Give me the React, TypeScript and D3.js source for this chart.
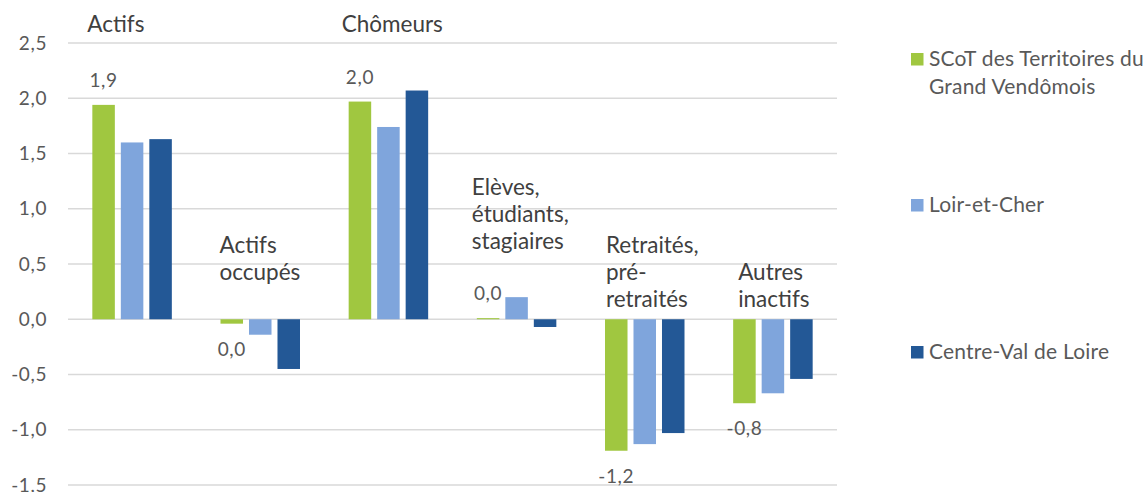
import React, { useEffect, useRef } from "react";
import * as d3 from "d3";

const categories = [
  ["Actifs"],
  ["Actifs", "occupés"],
  ["Chômeurs"],
  ["Elèves,", "étudiants,", "stagiaires"],
  ["Retraités,", "pré-", "retraités"],
  ["Autres", "inactifs"],
];
const seriesNames = ["SCoT des Territoires du Grand Vendômois", "Loir-et-Cher", "Centre-Val de Loire"];
const scotValues = [1.94, -0.04, 1.97, 0.01, -1.19, -0.76];
const loirValues = [1.6, -0.14, 1.74, 0.2, -1.13, -0.67];
const centreValues = [1.63, -0.45, 2.07, -0.07, -1.03, -0.54];
const yTicks = [-1.5, -1.0, -0.5, 0.0, 0.5, 1.0, 1.5, 2.0, 2.5];
const colors = ["#A0C740", "#7FA5DC", "#235896"];

export default function App() {
  const svgRef = useRef(null);
  const width = 1148;
  const height = 492;
  const marginLeft = 68;
  const plotRight = 837;

  useEffect(() => {
    const svg = d3.select(svgRef.current);
    svg.selectAll("*").remove();
    const font = "Lato, 'Noto Sans', sans-serif";
    const textColor = "#595959";
    const locale = d3.formatLocale({ decimal: ",", thousands: " ", grouping: [3], currency: ["", "€"], minus: "-" });
    const fmt = locale.format(".1f");
    const fmtLabel = (v) => { const s = fmt(v); return s === "-0,0" ? "0,0" : s; };

    const y = d3.scaleLinear().domain([-1.5, 2.5]).range([485, 43]);
    const x = d3.scaleBand().domain(d3.range(categories.length)).range([marginLeft, plotRight]);
    const xs = d3.scaleBand().domain(d3.range(3)).range([x.bandwidth() / 2 - 39.75, x.bandwidth() / 2 + 39.75]).paddingInner(0.21);

    // gridlines
    svg.append("g")
      .selectAll("line")
      .data(yTicks)
      .join("line")
      .attr("x1", marginLeft)
      .attr("x2", plotRight)
      .attr("y1", (d) => y(d))
      .attr("y2", (d) => y(d))
      .attr("stroke", "#D9D9D9")
      .attr("stroke-width", 1.5);

    // y tick labels
    svg.append("g")
      .selectAll("text")
      .data(yTicks)
      .join("text")
      .attr("x", 47)
      .attr("y", (d) => y(d))
      .attr("dy", "0.35em")
      .attr("text-anchor", "end")
      .attr("font-family", font)
      .attr("font-size", 19)
      .attr("letter-spacing", 0.6)
      .attr("fill", textColor)
      .text((d) => fmt(d));

    const series = [scotValues, loirValues, centreValues];
    const bars = svg.append("g");
    series.forEach((vals, si) => {
      bars.append("g")
        .attr("fill", colors[si])
        .selectAll("rect")
        .data(vals)
        .join("rect")
        .attr("x", (d, i) => x(i) + xs(si))
        .attr("y", (d) => y(Math.max(0, d)))
        .attr("width", xs.bandwidth())
        .attr("height", (d) => Math.abs(y(d) - y(0)));
    });

    // data labels, first series only
    svg.append("g")
      .selectAll("text")
      .data(scotValues)
      .join("text")
      .attr("x", (d, i) => x(i) + xs(0) + xs.bandwidth() / 2)
      .attr("y", (d) => (d >= 0 ? y(d) - 18 : y(d) + 32))
      .attr("text-anchor", "middle")
      .attr("font-family", font)
      .attr("font-size", 19)
      .attr("letter-spacing", 0.6)
      .attr("fill", textColor)
      .text((d) => fmtLabel(d));

    // category labels placed in the plot
    const catBaseline = [32, 253, 32, 195, 253, 280];
    const catShift = [-5, -1, -7, -5, 1, 5];
    const catG = svg.append("g")
      .attr("font-family", font)
      .attr("font-size", 22.5)
      .attr("fill", "#404040");
    categories.forEach((lines, i) => {
      const lx = x(i) + xs(0) + catShift[i];
      const t = catG.append("text")
        .attr("x", lx)
        .attr("y", catBaseline[i]);
      lines.forEach((l, li) => {
        t.append("tspan")
          .attr("x", lx)
          .attr("dy", li === 0 ? 0 : 27)
          .text(l);
      });
    });

    // legend
    const legendY = [53, 199, 346];
    const legendLines = [["SCoT des Territoires du", "Grand Vendômois"], ["Loir-et-Cher"], ["Centre-Val de Loire"]];
    const lg = svg.append("g").attr("font-family", font).attr("font-size", 21).attr("letter-spacing", 0.2).attr("fill", textColor);
    seriesNames.forEach((name, i) => {
      lg.append("rect")
        .attr("x", 911)
        .attr("y", legendY[i])
        .attr("width", 12.5)
        .attr("height", 12.5)
        .attr("fill", colors[i]);
      const t = lg.append("text").attr("x", 929).attr("y", legendY[i] + 12.5);
      legendLines[i].forEach((l, li) => {
        t.append("tspan").attr("x", 929).attr("dy", li === 0 ? 0 : 28).text(l);
      });
    });
  }, []);

  return (
    <svg ref={svgRef} width={width} height={height} style={{ position: "absolute", left: 0, top: 0, background: "#fff" }}>
    </svg>
  );
}
